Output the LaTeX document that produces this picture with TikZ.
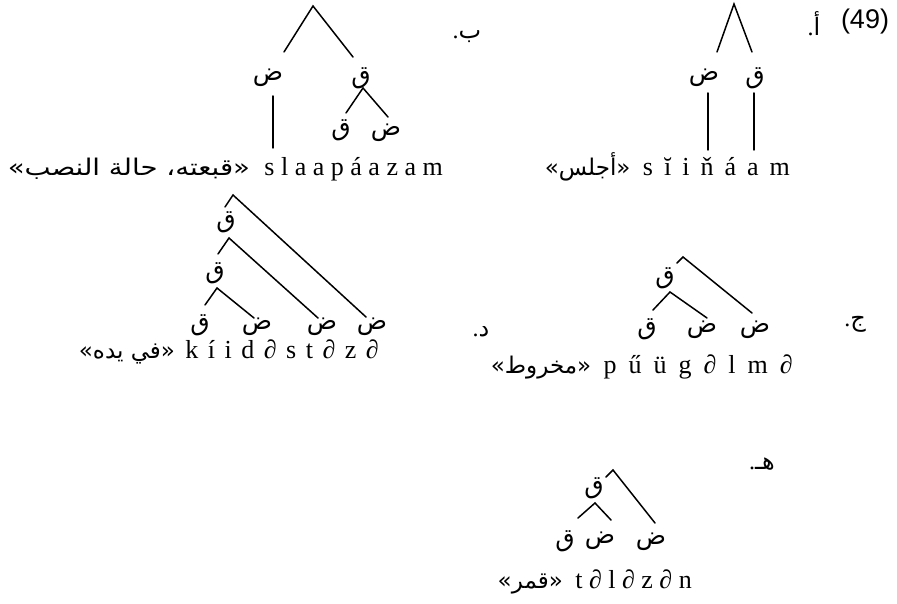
\documentclass[tikz,border=0pt]{standalone}
\usepackage{fontspec}
\setmainfont{Liberation Serif}
\newfontfamily\arabicfont[Script=Arabic]{DejaVu Sans}
\newfontfamily\arabicwide[Script=Arabic,FakeStretch=1.2]{DejaVu Sans}
\newfontfamily\numfont{Liberation Sans}
\TeXXeTstate=1
\begin{document}
\begin{tikzpicture}[x=1pt,y=-1pt,
  br/.style={line width=1.5pt, line cap=round},
  lbl/.style={font=\arabicfont\fontsize{25}{27}\selectfont, inner sep=0pt},
  lat/.style={font=\fontsize{26}{30}\selectfont, inner sep=0pt, anchor=base east},
  gl/.style={font=\arabicfont\fontsize{23}{26}\selectfont, inner sep=0pt, anchor=base east},
  ex/.style={font=\fontsize{24}{28}\selectfont, inner sep=0pt},
  num/.style={font=\numfont\fontsize{27}{30}\selectfont, inner sep=0pt}]
\useasboundingbox (0,0) rectangle (897,604);

% ---------- (49) a ----------
\node[num] (n49) at (865,22) {(49)};
\node[ex] (ea) at (814,24) {.{\arabicfont أ}};
\coordinate (aR) at (734,4);
\node[lbl] (a1) at (704,78) {ض};
\node[lbl] (a2) at (755,78) {ق};
\coordinate (a1t) at (717,52);
\coordinate (a2t) at (752,52);
\draw[br] (a1t) -- (aR) -- (a2t);
\coordinate (a1b) at (708,93);
\coordinate (a1w) at (708,150);
\coordinate (a2b) at (754,93);
\coordinate (a2w) at (754,150);
\draw[br] (a1b) -- (a1w);
\draw[br] (a2b) -- (a2w);
\node[lat] (alat) at (790,176) {\spaceskip=11pt s ĭ i ň á a m};
\node[gl] (agl) at ([xshift=-12pt]alat.base west) {»\beginR أجلس\endR«};

% ---------- b ----------
\node[ex] (eb) at (467,37) {.{\arabicfont ب}};
\coordinate (bR) at (313,6);
\node[lbl] (b1) at (268,78) {ض};
\node[lbl] (b2) at (361,78) {ق};
\coordinate (b1t) at (284,52);
\coordinate (b2t) at (353,57);
\draw[br] (b1t) -- (bR) -- (b2t);
\coordinate (bA) at (363,88);
\node[lbl] (b3) at (341,130) {ق};
\node[lbl] (b4) at (386,133) {ض};
\coordinate (b3t) at (346,113);
\coordinate (b4t) at (388,117);
\draw[br] (b3t) -- (bA) -- (b4t);
\coordinate (b1b) at (273,96);
\coordinate (b1w) at (273,148);
\draw[br] (b1b) -- (b1w);
\node[lat] (blat) at (443,176) {s l a a p á a z a m};
\node[gl, font=\arabicwide\fontsize{23}{26}\selectfont] (bgl) at ([xshift=-14pt]blat.base west) {»\beginR قبعته، حالة النصب\endR«};

% ---------- d ----------
\node[ex] (ed) at (481,332) {.{\arabicfont د}};
\coordinate (dR) at (233,195);
\node[lbl] (d1) at (226,222) {ق};
\coordinate (d1t) at (225,207);
\coordinate (dA1) at (229,238);
\node[lbl] (d2) at (215,273) {ق};
\coordinate (d2t) at (218,254);
\coordinate (dA2) at (217,288);
\node[lbl] (d3) at (200,325) {ق};
\coordinate (d3t) at (205,305);
\node[lbl] (d4) at (257,327) {ض};
\coordinate (d4t) at (254,318);
\node[lbl] (d5) at (322,327) {ض};
\coordinate (d5t) at (318,318);
\node[lbl] (d6) at (372,327) {ض};
\coordinate (d6t) at (366,317);
\draw[br] (d1t) -- (dR) -- (d6t);
\draw[br] (d2t) -- (dA1) -- (d5t);
\draw[br] (d3t) -- (dA2) -- (d4t);
\node[lat] (dlat) at (379,358) {\spaceskip=9.5pt k í i d ∂ s t ∂ z ∂};
\node[gl] (dgl) at ([xshift=-10pt]dlat.base west) {»\beginR في يده\endR«};

% ---------- c ----------
\node[ex] (ec) at (855,324) {.{\arabicfont ج}};
\coordinate (cR) at (683,257);
\node[lbl] (c1) at (665,278) {ق};
\coordinate (c1t) at (677,263);
\coordinate (cA1) at (670,292);
\node[lbl] (c2) at (647,329) {ق};
\coordinate (c2t) at (653,310);
\node[lbl] (c3) at (702,330) {ض};
\coordinate (c3t) at (707,318);
\node[lbl] (c4) at (755,330) {ض};
\coordinate (c4t) at (752,313);
\draw[br] (c1t) -- (cR) -- (c4t);
\draw[br] (c2t) -- (cA1) -- (c3t);
\node[lat] (clat) at (793,373) {\spaceskip=12pt p ű ü g ∂ l m ∂};
\node[gl] (cgl) at ([xshift=-12pt]clat.base west) {»\beginR مخروط\endR«};

% ---------- e ----------
\node[ex] (ee) at (762,464) {.{\arabicfont هـ}};
\coordinate (eR) at (613,470);
\node[lbl] (e1) at (594,488) {ق};
\coordinate (e1t) at (606,477);
\coordinate (eA1) at (595,503);
\node[lbl] (e2) at (565,541) {ق};
\coordinate (e2t) at (578,518);
\node[lbl] (e3) at (600,541) {ض};
\coordinate (e3t) at (611,520);
\node[lbl] (e4) at (651,542) {ض};
\coordinate (e4t) at (655,523);
\draw[br] (e1t) -- (eR) -- (e4t);
\draw[br] (e2t) -- (eA1) -- (e3t);
\node[lat] (elat) at (692,588) {\spaceskip=6.5pt t ∂ l ∂ z ∂ n};
\node[gl] (egl) at ([xshift=-12pt]elat.base west) {»\beginR قمر\endR«};
\end{tikzpicture}
\end{document}
